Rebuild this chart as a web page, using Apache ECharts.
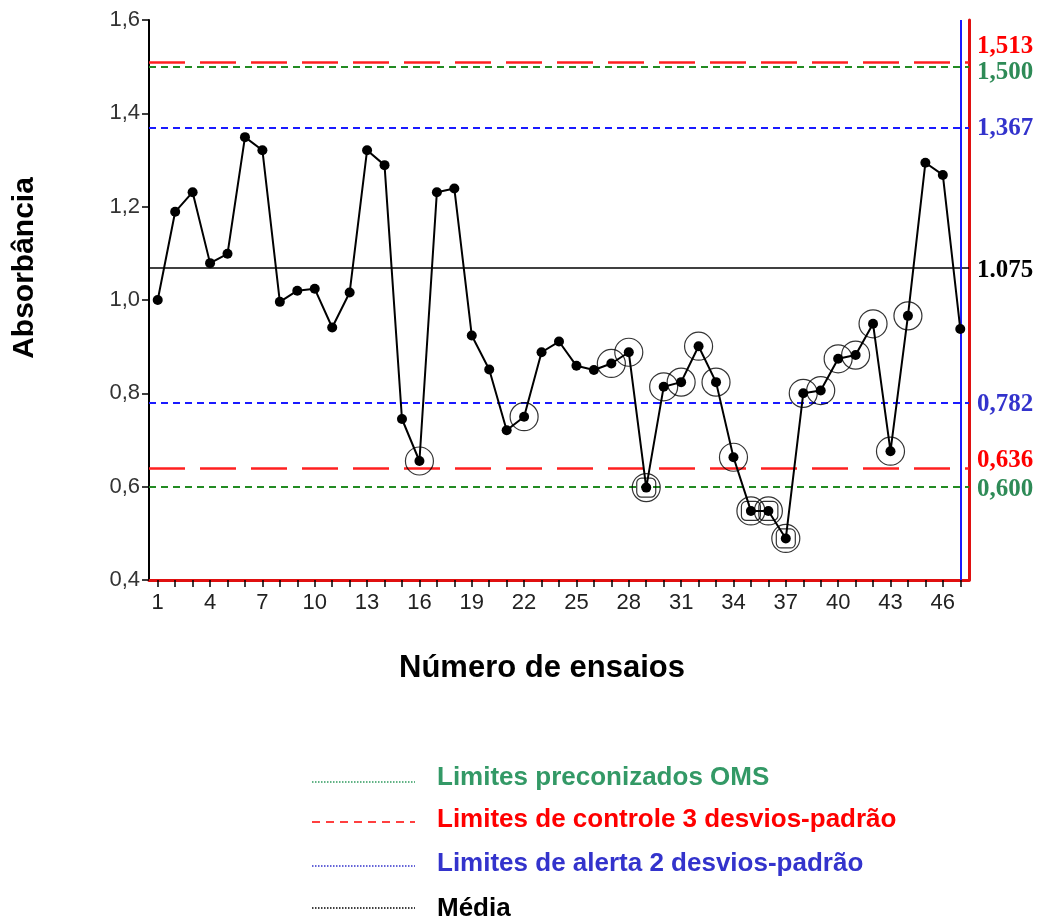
<!DOCTYPE html>
<html><head><meta charset="utf-8">
<script src="https://cdn.jsdelivr.net/npm/echarts@6/dist/echarts.min.js"></script>
<style>html,body{margin:0;padding:0;background:#fff}#c{width:1041px;height:922px}</style>
</head><body><div id="c"></div>
<script>
// ---- data ----
const trials = ['1','2','3','4','5','6','7','8','9','10','11','12','13','14','15','16','17','18','19','20','21','22','23','24','25','26','27','28','29','30','31','32','33','34','35','36','37','38','39','40','41','42','43','44','45','46','47'];
const absorbance = [1.000,1.189,1.231,1.079,1.099,1.349,1.321,0.996,1.020,1.024,0.941,1.016,1.321,1.289,0.745,0.655,1.231,1.239,0.924,0.851,0.721,0.750,0.888,0.911,0.859,0.850,0.864,0.888,0.598,0.814,0.824,0.901,0.824,0.663,0.548,0.548,0.489,0.800,0.806,0.874,0.882,0.949,0.676,0.966,1.294,1.268,0.938];
const circledTrials = ['16','22','27','28','29','30','31','32','33','34','35','36','37','38','39','40','41','42','43','44'];
const boxedTrials = ['29','35','36','37'];
const omsLimits = [1.500, 0.600];
const omsLabels = ['1,500', '0,600'];
const controlLimits = [1.513, 0.636];
const controlLabels = ['1,513', '0,636'];
const alertLimits = [1.367, 0.782];
const alertLabels = ['1,367', '0,782'];
const meanValue = [1.075];
const meanLabels = ['1.075'];
const yMin = 0.4, yMax = 1.6, yStep = 0.2;
const lastTrial = '47';

const pick = list => list.map(t => [t, absorbance[trials.indexOf(t)]]);
const serif = "'Liberation Serif','Times New Roman',serif";
const sans = "'Liberation Sans',Arial,sans-serif";

// shift: vertical shift of the label text (px, + = down)
function shiftedLabel(text, shift) {
  if (!shift) return { formatter: text };
  const lh = Math.abs(shift) * 2;
  return { formatter: shift < 0 ? text + '\n ' : ' \n' + text, lineHeight: lh };
}

function limitSeries(name, values, labels, color, labelColor, dash, width, shifts) {
  return {
    name, type: 'line', data: [], silent: true,
    markLine: {
      silent: true, symbol: ['none', 'none'], animation: false,
      data: values.map((v, i) => ({ yAxis: v, label: shiftedLabel(labels[i], shifts[i]) })),
      lineStyle: { color, type: dash, width },
      label: { show: true, position: 'end', distance: 8, color: labelColor, fontFamily: serif, fontWeight: 'bold', fontSize: 25 }
    }
  };
}

const legendFont = "bold 26px 'Liberation Sans', Arial, sans-serif";

const chart = echarts.init(document.getElementById('c'), null, { renderer: 'canvas' });
chart.setOption({
  animation: false,
  backgroundColor: '#fff',
  grid: { left: 149, right: 72, top: 20, bottom: 342 },
  xAxis: {
    type: 'category', data: trials, boundaryGap: true,
    axisLine: { lineStyle: { color: '#e01010', width: 3 } },
    axisTick: { show: true, alignWithLabel: true, interval: 0, length: 7, lineStyle: { color: '#000', width: 1.5 } },
    axisLabel: { interval: 2, color: '#222', fontFamily: sans, fontSize: 22, margin: 12 },
    splitLine: { show: false }
  },
  yAxis: [{
    type: 'value', min: yMin, max: yMax, interval: yStep,
    axisLine: { show: true, lineStyle: { color: '#000', width: 2 } },
    axisTick: { show: true, length: 7, lineStyle: { color: '#000', width: 1.5 } },
    axisLabel: { color: '#333', fontFamily: sans, fontSize: 22, margin: 9,
      formatter: v => v.toFixed(1).replace('.', ',') },
    splitLine: { show: false }
  }, {
    type: 'value', min: yMin, max: yMax, position: 'right',
    axisLine: { show: true, lineStyle: { color: '#e01010', width: 3 } },
    axisTick: { show: false }, axisLabel: { show: false }, splitLine: { show: false }
  }],
  graphic: [
    { type: 'text', style: { text: 'Número de ensaios', x: 542, y: 668, align: 'center', verticalAlign: 'middle', font: "bold 31px 'Liberation Sans', Arial, sans-serif", fill: '#000' } },
    { type: 'text', x: 25, y: 268, rotation: Math.PI / 2, style: { text: 'Absorbância', x: 0, y: 0, align: 'center', verticalAlign: 'middle', font: "bold 30px 'Liberation Sans', Arial, sans-serif", fill: '#000' } },
    { type: 'line', shape: { x1: 312, y1: 782, x2: 415, y2: 782 }, style: { stroke: '#2e9a5e', lineWidth: 1.5, lineDash: [1.5, 1.5] } },
    { type: 'line', shape: { x1: 312, y1: 822, x2: 415, y2: 822 }, style: { stroke: '#ff0000', lineWidth: 1.5, lineDash: [8, 6] } },
    { type: 'line', shape: { x1: 312, y1: 866, x2: 415, y2: 866 }, style: { stroke: '#3333cc', lineWidth: 1.5, lineDash: [1.5, 1.5] } },
    { type: 'line', shape: { x1: 312, y1: 908, x2: 415, y2: 908 }, style: { stroke: '#000', lineWidth: 1.5, lineDash: [1.5, 1.5] } },
    { type: 'text', style: { text: 'Limites preconizados OMS', x: 437, y: 778, verticalAlign: 'middle', font: legendFont, fill: '#339966' } },
    { type: 'text', style: { text: 'Limites de controle 3 desvios-padrão', x: 437, y: 820, verticalAlign: 'middle', font: legendFont, fill: '#ff0000' } },
    { type: 'text', style: { text: 'Limites de alerta 2 desvios-padrão', x: 437, y: 864, verticalAlign: 'middle', font: legendFont, fill: '#3333cc' } },
    { type: 'text', style: { text: 'Média', x: 437, y: 909, verticalAlign: 'middle', font: legendFont, fill: '#000' } }
  ],
  series: [
    limitSeries('OMS', omsLimits, omsLabels, '#228b22', '#2e8b57', [7, 5], 2, [6, 3]),
    limitSeries('Controle', controlLimits, controlLabels, '#ff2020', '#ff0000', [36, 15], 2.5, [-15, -7]),
    limitSeries('Alerta', alertLimits, alertLabels, '#1a1aff', '#3333cc', [7, 5], 2, [1, 2]),
    limitSeries('Média', meanValue, meanLabels, '#000000', '#000000', 'solid', 1.5, [3]),
    {
      name: 'fim', type: 'line', data: [], silent: true,
      markLine: { silent: true, symbol: ['none','none'], label: { show: false },
        data: [{ xAxis: lastTrial }], lineStyle: { color: '#1a1aff', type: 'solid', width: 2 } }
    },
    {
      name: 'Absorbância', type: 'line', data: absorbance, z: 5,
      symbol: 'circle', symbolSize: 10,
      lineStyle: { color: '#000', width: 2 },
      itemStyle: { color: '#000' }
    },
    {
      name: 'circulados', type: 'scatter', data: pick(circledTrials), z: 6, silent: true,
      symbol: 'circle', symbolSize: 28,
      itemStyle: { color: 'rgba(0,0,0,0)', borderColor: '#000', borderWidth: 1.2 }
    },
    {
      name: 'quadrados', type: 'scatter', data: pick(boxedTrials), z: 6, silent: true,
      symbol: 'roundRect', symbolSize: 19,
      itemStyle: { color: 'rgba(0,0,0,0)', borderColor: '#000', borderWidth: 1.2 }
    }
  ]
});
</script>
</body></html>
